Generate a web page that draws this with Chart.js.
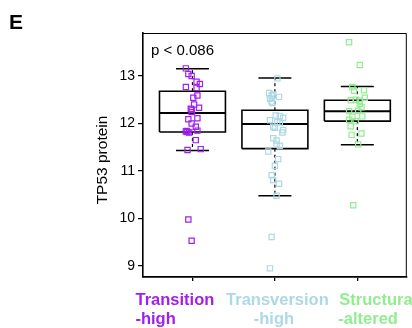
<!DOCTYPE html>
<html lang="en">
<head>
    <meta charset="UTF-8">
    <title>TP53 protein by mutation signature</title>
    <style>
        body { margin: 0; background: #ffffff; }
        #wrap { width: 412px; height: 328px; }
    </style>
</head>
<body>
<div id="wrap"><canvas id="chart" width="412" height="328"></canvas></div>

<script src="https://cdn.jsdelivr.net/npm/chart.js"></script>
<script>
    // Data
    const categories = [1, 2, 3];
    const labelLines = [['Transition', '-high'], ['Transversion', '-high'], ['Structural', '-altered']];
    const groupColors = ['#A020F0', '#ADD8E6', '#90EE90'];
    const yTicks = [9, 10, 11, 12, 13];
    const pValueText = 'p < 0.086';
    const panelLetter = 'E';
    const yTitle = 'TP53 protein';

    // box statistics per group
    const q1 = [11.82, 11.47, 12.05];
    const medians = [12.22, 11.99, 12.26];
    const q3 = [12.68, 12.28, 12.49];
    const whiskerLow = [11.43, 10.48, 11.55];
    const whiskerHigh = [13.15, 12.96, 12.78];

    // jittered points (x position, value)
    const transitionX = [0.92, 0.95, 0.99, 1.05, 1.09, 1.05, 0.92, 1.06, 1.01, 1.02, 1.08, 0.98, 0.99, 0.99, 1.06, 0.95, 0.99, 1.04, 1.06, 0.92, 0.93, 0.94, 0.96, 1.04, 0.94, 1.10, 0.95, 0.99];
    const transitionY = [13.16, 13.04, 13.00, 12.88, 12.83, 12.75, 12.77, 12.59, 12.54, 12.40, 12.33, 12.31, 12.29, 12.24, 12.11, 12.09, 12.00, 11.93, 11.85, 11.83, 11.84, 11.82, 11.81, 11.65, 11.44, 11.46, 9.98, 9.53];

    const transversionX = [2.03, 1.93, 1.96, 1.98, 2.05, 1.94, 1.96, 1.97, 2.01, 2.06, 2.10, 1.94, 2.03, 2.06, 1.98, 2.00, 2.10, 2.09, 1.98, 2.02, 2.02, 2.06, 1.92, 2.04, 2.00, 1.96, 1.98, 2.05, 2.02, 1.96, 1.94];
    const transversionY = [12.95, 12.64, 12.59, 12.61, 12.56, 12.52, 12.46, 12.43, 12.17, 12.16, 12.12, 12.07, 12.03, 12.02, 11.93, 11.91, 11.86, 11.81, 11.69, 11.64, 11.56, 11.53, 11.41, 11.25, 11.11, 10.91, 10.81, 10.73, 10.48, 9.61, 8.95];

    const structuralX = [2.90, 3.03, 2.94, 2.96, 3.08, 3.09, 2.92, 2.98, 3.03, 3.03, 3.05, 2.90, 3.01, 3.06, 2.94, 2.90, 2.98, 2.92, 3.05, 2.93, 3.01, 2.95];
    const structuralY = [13.71, 13.23, 12.77, 12.69, 12.70, 12.54, 12.49, 12.50, 12.48, 12.41, 12.34, 12.26, 12.27, 12.15, 12.14, 12.08, 12.05, 11.94, 11.79, 11.76, 11.56, 10.28];

    const pointsX = [transitionX, transversionX, structuralX];
    const pointsY = [transitionY, transversionY, structuralY];

    const FONT = '"Liberation Sans", Arial, Helvetica, sans-serif';
    const BOX_HALF = 0.4;
    const CAP_HALF = 0.2;

    function segment(pts, width, dash) {
        return {
            type: 'scatter',
            data: pts.map(p => ({ x: p[0], y: p[1] })),
            showLine: true,
            borderColor: '#000000',
            borderWidth: width,
            borderDash: dash || [],
            borderJoinStyle: 'miter',
            borderCapStyle: 'butt',
            pointRadius: 0,
            fill: false,
            tension: 0,
            order: 2
        };
    }

    // build the boxplots out of line segments
    const datasets = [];
    categories.forEach((c, i) => {
        datasets.push(segment([[c, q3[i]], [c, whiskerHigh[i]]], 1.2, [3, 3]));
        datasets.push(segment([[c, q1[i]], [c, whiskerLow[i]]], 1.2, [3, 3]));
        datasets.push(segment([[c - CAP_HALF, whiskerHigh[i]], [c + CAP_HALF, whiskerHigh[i]]], 1.5));
        datasets.push(segment([[c - CAP_HALF, whiskerLow[i]], [c + CAP_HALF, whiskerLow[i]]], 1.5));
        datasets.push(segment([
            [c - BOX_HALF, q1[i]], [c + BOX_HALF, q1[i]], [c + BOX_HALF, q3[i]],
            [c - BOX_HALF, q3[i]], [c - BOX_HALF, q1[i]]
        ], 1.6));
        datasets.push(segment([[c - BOX_HALF, medians[i]], [c + BOX_HALF, medians[i]]], 2));
    });

    // jittered points on top
    categories.forEach((c, i) => {
        datasets.push({
            type: 'scatter',
            data: pointsX[i].map((x, k) => ({ x: x, y: pointsY[i][k] })),
            pointStyle: 'rect',
            pointRadius: 3.7,
            pointBorderWidth: 1.2,
            pointBorderColor: groupColors[i],
            pointBackgroundColor: 'rgba(0,0,0,0)',
            showLine: false,
            order: 1
        });
    });

    const decorations = {
        id: 'decorations',
        afterDraw(chart) {
            const ctx = chart.ctx;
            const area = chart.chartArea;
            const xs = chart.scales.x;
            ctx.save();

            // top and right frame
            ctx.strokeStyle = '#000000';
            ctx.lineWidth = 1;
            ctx.beginPath();
            ctx.moveTo(area.left, area.top + 0.5);
            ctx.lineTo(area.right - 0.5, area.top + 0.5);
            ctx.lineTo(area.right - 0.5, area.bottom);
            ctx.stroke();

            // panel letter
            ctx.fillStyle = '#000000';
            ctx.textBaseline = 'alphabetic';
            ctx.textAlign = 'left';
            ctx.font = 'bold 21px ' + FONT;
            ctx.fillText(panelLetter, 9, 29);

            // p value
            ctx.font = '15px ' + FONT;
            ctx.fillText(pValueText, 151, 55);

            // y title
            ctx.save();
            ctx.translate(107, 160);
            ctx.rotate(-Math.PI / 2);
            ctx.textAlign = 'center';
            ctx.font = '15.5px ' + FONT;
            ctx.fillText(yTitle, 0, 0);
            ctx.restore();

            // category labels
            ctx.font = 'bold 16.5px ' + FONT;
            const place = [
                [['left', -57], ['left', -57]],
                [['center', 2.5], ['center', -1]],
                [['left', -18], ['left', -19]]
            ];
            categories.forEach((c, i) => {
                const px = xs.getPixelForValue(c);
                ctx.fillStyle = groupColors[i];
                labelLines[i].forEach((line, j) => {
                    ctx.textAlign = place[i][j][0];
                    ctx.fillText(line, px + place[i][j][1], 305 + j * 19);
                });
            });
            ctx.restore();
        }
    };

    new Chart(document.getElementById('chart'), {
        type: 'scatter',
        data: { datasets: datasets },
        options: {
            responsive: false,
            animation: false,
            events: [],
            layout: { padding: { top: 33, right: 1, left: 0, bottom: 0 } },
            plugins: { legend: { display: false }, tooltip: { enabled: false } },
            scales: {
                x: {
                    type: 'linear',
                    min: 0.4,
                    max: 3.6,
                    afterBuildTicks: s => { s.ticks = categories.map(v => ({ value: v })); },
                    afterFit: s => { s.height = 51; },
                    ticks: { callback: () => '', padding: 0 },
                    grid: { drawOnChartArea: false, color: '#000000', tickLength: 4, lineWidth: 1.3 },
                    border: { display: true, color: '#000000', width: 1.8 }
                },
                y: {
                    type: 'linear',
                    min: 8.768,
                    max: 13.905,
                    afterBuildTicks: s => { s.ticks = yTicks.map(v => ({ value: v })); },
                    afterFit: s => { s.width = 143; },
                    ticks: { color: '#000000', padding: 3, font: { family: FONT, size: 14 } },
                    grid: { drawOnChartArea: false, color: '#000000', tickLength: 5, lineWidth: 1.2 },
                    border: { display: true, color: '#000000', width: 1.6 }
                }
            }
        },
        plugins: [decorations]
    });
</script>
</body>
</html>
